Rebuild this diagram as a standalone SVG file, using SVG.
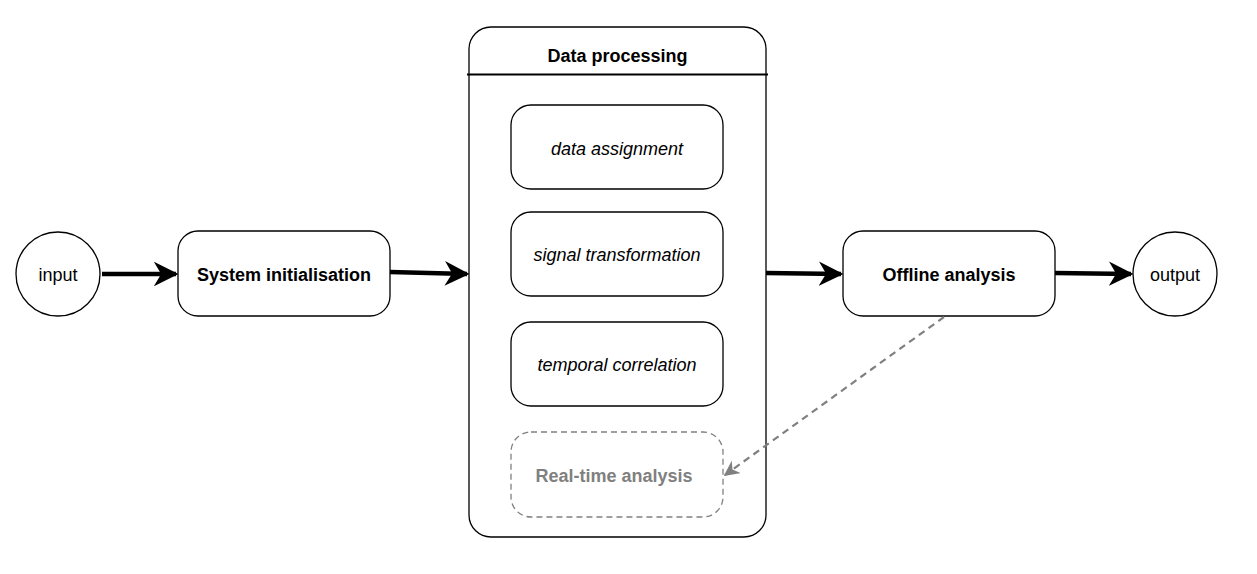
<svg xmlns="http://www.w3.org/2000/svg" width="1257" height="574" viewBox="0 0 1257 574">
<style>
.n{fill:#fff;stroke:#000;stroke-width:1.3}
.t{font-family:"Liberation Sans",Arial,sans-serif;font-size:18px;fill:#000;text-anchor:middle;dominant-baseline:central}
.b{font-weight:bold}
.i{font-style:italic}
.thick{stroke:#000;stroke-width:4.5;fill:none}
.dash{stroke:#808080;stroke-width:2.2;fill:none;stroke-dasharray:7 5}
</style>
<defs>
<marker id="ah" viewBox="0 0 10 10" refX="9" refY="5" markerWidth="5.5" markerHeight="5.5" orient="auto" markerUnits="strokeWidth">
<path d="M0,0 L10,5 L0,10 L3,5 Z" fill="#000"/>
</marker>
<marker id="ag" viewBox="0 0 10 10" refX="9" refY="5" markerWidth="7" markerHeight="7" orient="auto" markerUnits="strokeWidth">
<path d="M0,0 L10,5 L0,10 L3,5 Z" fill="#808080"/>
</marker>
</defs>
<g id="input"><circle class="n" cx="58" cy="274" r="42"/><text class="t" x="58" y="275">input</text></g>
<g id="sysinit"><rect class="n" x="178" y="231" width="212" height="85" rx="20"/><text class="t b" x="284" y="275">System initialisation</text></g>
<g id="dataproc"><rect class="n" x="469" y="27" width="297" height="510" rx="22"/><line x1="467" y1="74.5" x2="768" y2="74.5" stroke="#000" stroke-width="2"/><text class="t b" x="617.5" y="56">Data processing</text></g>
<g id="assign"><rect class="n" x="511" y="105" width="212" height="84" rx="20"/><text class="t i" x="617" y="149">data assignment</text></g>
<g id="signal"><rect class="n" x="511" y="212" width="212" height="84" rx="20"/><text class="t i" x="617" y="255">signal transformation</text></g>
<g id="temporal"><rect class="n" x="511" y="322" width="212" height="84" rx="20"/><text class="t i" x="617" y="365">temporal correlation</text></g>
<g id="realtime"><rect x="511" y="432" width="212" height="85" rx="20" fill="#fff" stroke="#808080" stroke-width="1.3" stroke-dasharray="6 4"/><text class="t b" x="614" y="476" style="fill:#808080">Real-time analysis</text></g>
<g id="offline"><rect class="n" x="843" y="231" width="212" height="85" rx="20"/><text class="t b" x="949" y="275">Offline analysis</text></g>
<g id="output"><circle class="n" cx="1175" cy="274" r="42"/><text class="t" x="1175" y="275">output</text></g>
<g id="connectors">
<line class="thick" x1="102" y1="274" x2="176" y2="274" marker-end="url(#ah)"/>
<line class="thick" x1="390" y1="272" x2="467" y2="274" marker-end="url(#ah)"/>
<line class="thick" x1="766" y1="273" x2="841" y2="274" marker-end="url(#ah)"/>
<line class="thick" x1="1055" y1="273" x2="1131" y2="274" marker-end="url(#ah)"/>
<line class="dash" x1="944" y1="317" x2="725" y2="475" marker-end="url(#ag)"/>
</g>
</svg>
